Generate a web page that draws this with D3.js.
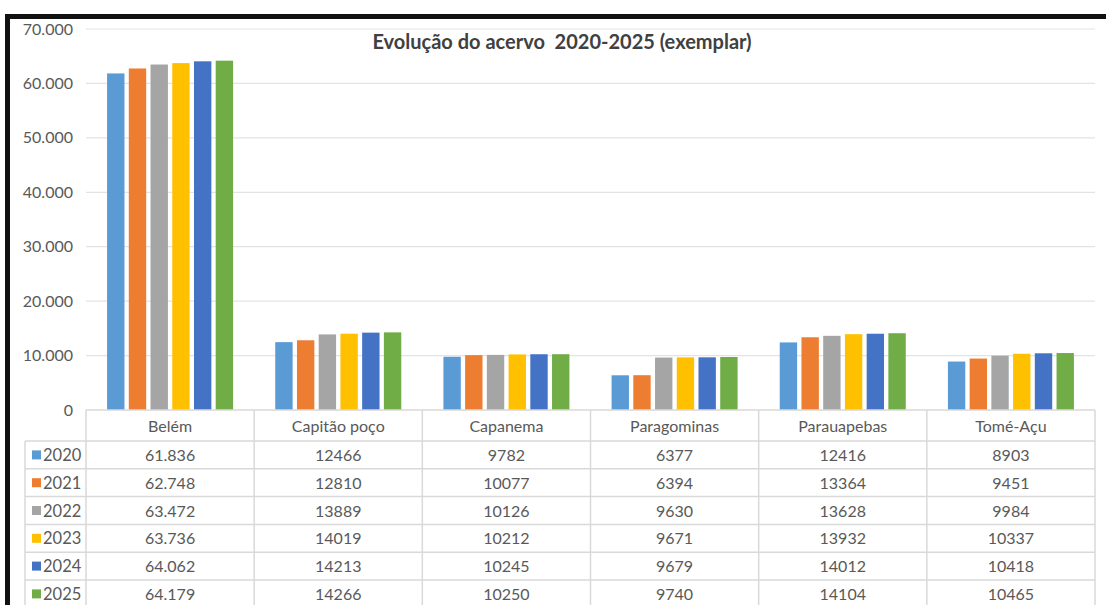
<!DOCTYPE html>
<html>
<head>
<meta charset="utf-8">
<script src="https://cdn.jsdelivr.net/npm/d3@7"></script>
<style>
  body { margin: 0; background: #fff; }
  text { font-family: Lato, "Open Sans", sans-serif; }
</style>
</head>
<body>
<div id="chart"></div>
<script>
// dados
var cidades = ["Belém", "Capitão poço", "Capanema", "Paragominas", "Parauapebas", "Tomé-Açu"];
var anos = ["2020", "2021", "2022", "2023", "2024", "2025"];
var v2020 = [61836, 12466, 9782, 6377, 12416, 8903];
var v2021 = [62748, 12810, 10077, 6394, 13364, 9451];
var v2022 = [63472, 13889, 10126, 9630, 13628, 9984];
var v2023 = [63736, 14019, 10212, 9671, 13932, 10337];
var v2024 = [64062, 14213, 10245, 9679, 14012, 10418];
var v2025 = [64179, 14266, 10250, 9740, 14104, 10465];
var yTicks = [0, 10000, 20000, 30000, 40000, 50000, 60000, 70000];
var titulo = "Evolução do acervo  2020-2025 (exemplar)";

var series = [v2020, v2021, v2022, v2023, v2024, v2025];
var cores = ["#5B9BD5", "#ED7D31", "#A5A5A5", "#FFC000", "#4472C4", "#70AD47"];

var width = 1106, height = 605;
var plot = {left: 86, right: 1095, top: 29, bottom: 410};

var ptBR = d3.formatLocale({decimal: ",", thousands: ".", grouping: [3], currency: ["R$", ""]});
var fmtTick = ptBR.format(",d");

var svg = d3.select("#chart").append("svg")
  .attr("width", width)
  .attr("height", height);

// escalas
var x0 = d3.scaleBand().domain(cidades).range([plot.left, plot.right]);
var x1 = d3.scaleBand().domain(anos).range([0, x0.bandwidth()])
  .paddingInner(0.2).paddingOuter(0.97);
var y = d3.scaleLinear().domain([0, 70000]).range([plot.bottom, plot.top]);

// grade
svg.append("g").selectAll("line")
  .data(yTicks.filter(function(d) { return d > 0; }))
  .enter().append("line")
  .attr("x1", plot.left).attr("x2", plot.right)
  .attr("y1", function(d) { return y(d); })
  .attr("y2", function(d) { return y(d); })
  .attr("stroke", "#e3e3e3").attr("stroke-width", 1.2);

// eixo Y
var yAxis = d3.axisLeft(y).tickValues(yTicks).tickFormat(fmtTick).tickSize(0).tickPadding(0);
var gy = svg.append("g")
  .attr("transform", "translate(73,0)")
  .call(yAxis);
gy.select(".domain").remove();
gy.selectAll("text")
  .attr("fill", "#595959")
  .style("font-size", "16px")
  .style("font-family", "Lato, sans-serif");

// barras
var grupos = svg.append("g").selectAll("g")
  .data(cidades)
  .enter().append("g")
  .attr("transform", function(d) { return "translate(" + x0(d) + ",0)"; });

grupos.selectAll("rect")
  .data(function(d, i) {
    return anos.map(function(a, j) { return {ano: a, v: series[j][i], j: j}; });
  })
  .enter().append("rect")
  .attr("x", function(d) { return x1(d.ano); })
  .attr("y", function(d) { return y(d.v); })
  .attr("width", x1.bandwidth())
  .attr("height", function(d) { return y(0) - y(d.v); })
  .attr("fill", function(d) { return cores[d.j]; });

// título
svg.append("text")
  .attr("x", 562).attr("y", 49)
  .attr("text-anchor", "middle")
  .attr("fill", "#404040")
  .style("font-size", "20px")
  .style("font-weight", "bold")
  .style("white-space", "pre")
  .text(titulo);

// tabela de dados
var headTop = 410, headH = 31, rowH = 27.8, legLeft = 25;
var tabela = svg.append("g");
var linha = "#d9d9d9";

// linhas horizontais
tabela.append("line")
  .attr("x1", plot.left).attr("x2", plot.right)
  .attr("y1", headTop).attr("y2", headTop)
  .attr("stroke", linha).attr("stroke-width", 1.5);
for (var r = 0; r <= anos.length; r++) {
  var yy = headTop + headH + r * rowH;
  tabela.append("line")
    .attr("x1", legLeft).attr("x2", plot.right)
    .attr("y1", yy).attr("y2", yy)
    .attr("stroke", linha).attr("stroke-width", 1.5);
}
// linhas verticais
tabela.append("line")
  .attr("x1", legLeft).attr("x2", legLeft)
  .attr("y1", headTop + headH).attr("y2", height)
  .attr("stroke", linha).attr("stroke-width", 1.5);
var bordas = cidades.map(function(c) { return x0(c); }).concat([plot.right]);
tabela.selectAll(".vl").data(bordas)
  .enter().append("line")
  .attr("class", "vl")
  .attr("x1", function(d) { return d; }).attr("x2", function(d) { return d; })
  .attr("y1", headTop).attr("y2", height)
  .attr("stroke", linha).attr("stroke-width", 1.5);

// cabeçalho
tabela.selectAll(".hd").data(cidades)
  .enter().append("text")
  .attr("class", "hd")
  .attr("x", function(d) { return x0(d) + x0.bandwidth() / 2; })
  .attr("y", headTop + headH / 2 + 6)
  .attr("text-anchor", "middle")
  .attr("fill", "#595959")
  .style("font-size", "16px")
  .text(function(d) { return d; });

// linhas de valores
anos.forEach(function(a, j) {
  var cy = headTop + headH + j * rowH + rowH / 2;
  tabela.append("rect")
    .attr("x", 32).attr("y", cy - 4.5)
    .attr("width", 9).attr("height", 9)
    .attr("fill", cores[j]);
  tabela.append("text")
    .attr("x", 43).attr("y", cy + 6)
    .attr("fill", "#595959")
    .style("font-size", "16.5px")
    .text(a);
  cidades.forEach(function(c, i) {
    var v = series[j][i];
    tabela.append("text")
      .attr("x", x0(c) + x0.bandwidth() / 2)
      .attr("y", cy + 6)
      .attr("text-anchor", "middle")
      .attr("fill", "#595959")
      .style("font-size", "16px")
      .text(i === 0 ? fmtTick(v) : String(v));
  });
});

// moldura preta
svg.append("rect").attr("x", 5).attr("y", 14).attr("width", width - 5).attr("height", 5).attr("fill", "#111");
svg.append("rect").attr("x", 5).attr("y", 14).attr("width", 5).attr("height", height - 14).attr("fill", "#111");
</script>
</body>
</html>
